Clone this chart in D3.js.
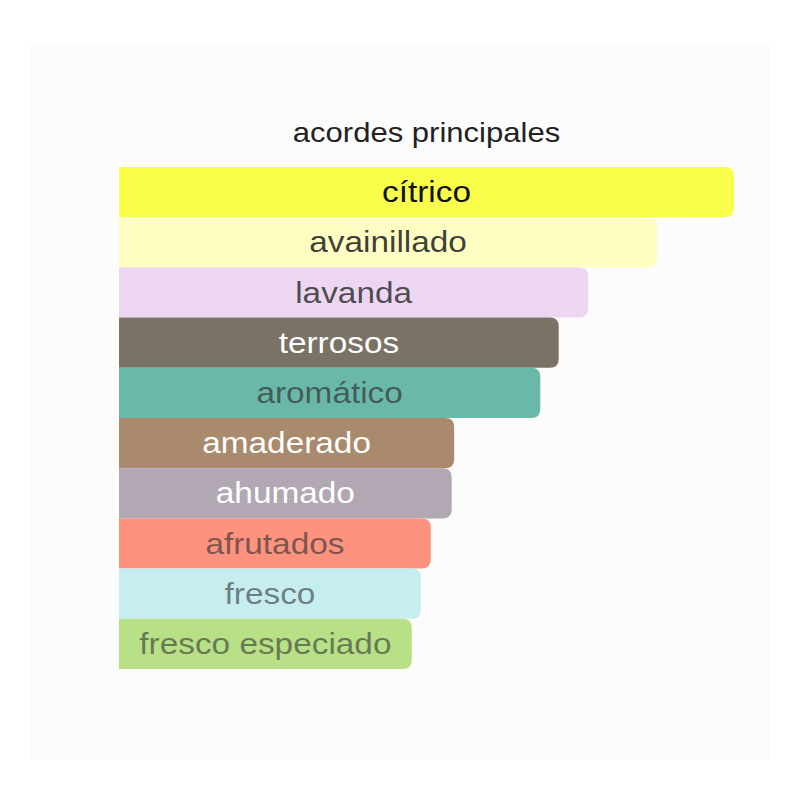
<!DOCTYPE html>
<html lang="es">
<head>
<meta charset="UTF-8">
<title>acordes principales</title>
<script src="https://d3js.org/d3.v7.min.js"></script>
<style>
  body { margin: 0; background: #fff; }
  text { font-family: "Liberation Sans", Arial, sans-serif; }
</style>
</head>
<body>
<div id="chart"></div>
<script>
const accords = ["cítrico", "avainillado", "lavanda", "terrosos", "aromático",
                 "amaderado", "ahumado", "afrutados", "fresco", "fresco especiado"];
const strength = [100, 87.5, 76.3, 71.5, 68.5, 54.5, 54.1, 50.7, 49.1, 47.6];
const barColors = ["#f9fe4b", "#fefec3", "#ecd6f1", "#7b7266", "#6ab9a8",
                   "#a98a6d", "#b2a8b4", "#fd927e", "#c6eef1", "#b8e086"];
const textColors = ["#111", "#333", "#333", "#fff", "#333",
                    "#fff", "#fff", "#333", "#333", "#333"];
const textAlpha = [1, 0.95, 0.85, 1, 0.7, 1, 1, 0.65, 0.6, 0.6];

const w = 800, h = 800;
const barLeft = 119, barW = 615, barTop = 167, pitch = 50.2;
const stretch = 1.15; // glyphs in the original are a bit wider than Arial

const svg = d3.select("#chart").append("svg")
  .attr("width", w).attr("height", h);

// faint panel behind the chart
svg.append("rect")
  .attr("x", 30).attr("y", 42).attr("width", 740).attr("height", 718)
  .attr("fill", "#fcfcfc");

const x = d3.scaleLinear().domain([0, 100]).range([0, barW]);
const y = d3.scaleBand().domain(accords)
  .range([barTop, barTop + pitch * accords.length]).padding(0);

svg.append("text")
  .attr("transform", `translate(${barLeft + barW / 2},142) scale(${stretch},1)`)
  .attr("text-anchor", "middle")
  .style("font-size", "27px").attr("fill", "#222")
  .text("acordes principales");

const r = 9;
const barPath = (wd, y0, ht) =>
  `M${barLeft},${y0} H${barLeft + wd - r} Q${barLeft + wd},${y0} ${barLeft + wd},${y0 + r}` +
  ` V${y0 + ht - r} Q${barLeft + wd},${y0 + ht} ${barLeft + wd - r},${y0 + ht} H${barLeft} Z`;

const g = svg.selectAll("g.bar").data(accords).enter().append("g").attr("class", "bar");

g.append("path")
  .attr("d", (d, i) => barPath(x(strength[i]), y(d), y.bandwidth()))
  .attr("fill", (d, i) => barColors[i]);

g.append("text")
  .attr("transform", (d, i) =>
    `translate(${barLeft + x(strength[i]) / 2},${y(d) + y.bandwidth() / 2 + 10}) scale(${stretch},1)`)
  .attr("text-anchor", "middle")
  .style("font-size", "29px")
  .attr("fill", (d, i) => textColors[i])
  .attr("fill-opacity", (d, i) => textAlpha[i])
  .text(d => d);
</script>
</body>
</html>
